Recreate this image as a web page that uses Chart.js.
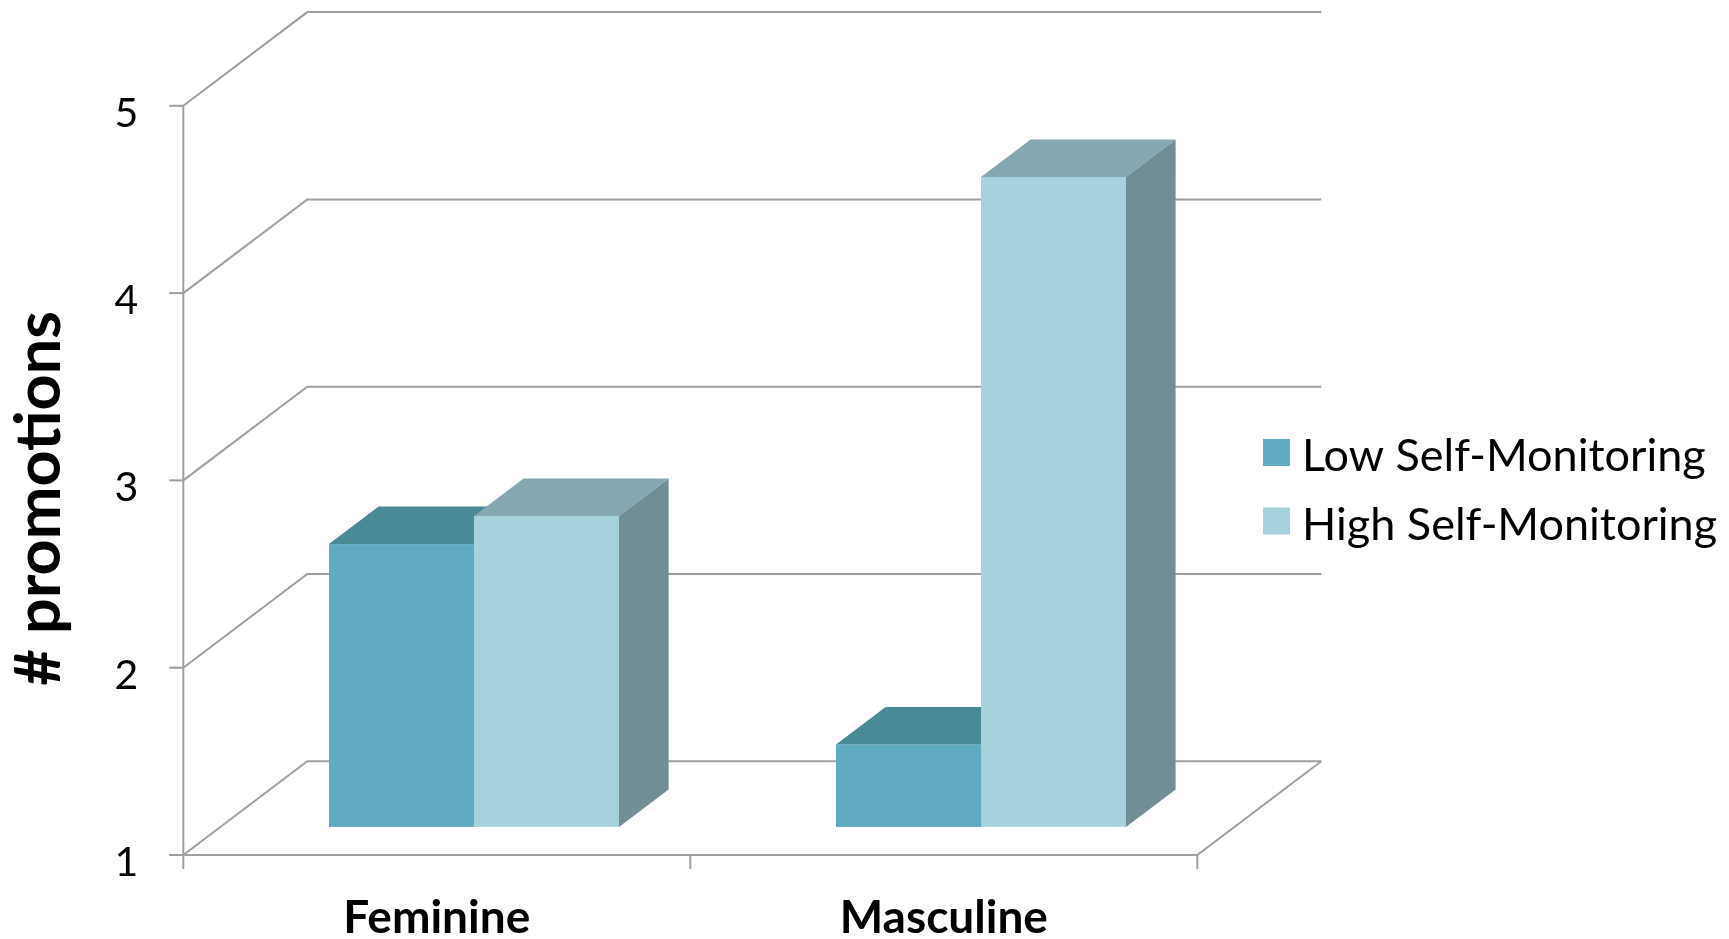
<!DOCTYPE html>
<html>
<head>
<meta charset="utf-8">
<title># promotions</title>
<script src="https://cdn.jsdelivr.net/npm/chart.js@4.4.1/dist/chart.umd.min.js"></script>
<style>
  html, body { margin: 0; padding: 0; background: #ffffff; }
  canvas { display: block; }
</style>
</head>
<body>
<canvas id="chart" width="1729" height="939"></canvas>
<script>
// Categories, series and value-axis ticks
const categories = ['Feminine', 'Masculine'];
const seriesNames = ['Low Self-Monitoring', 'High Self-Monitoring'];
const lowSelfMonitoring = [2.51, 1.44];
const highSelfMonitoring = [2.66, 4.47];
const valueTicks = [1, 2, 3, 4, 5];
const axisTitle = '# promotions';

// Face colours for each series: front, top, side
const faceColors = [
  { front: '#60aac2', top: '#4a8996', side: '#4f8797' },
  { front: '#a6d2de', top: '#85a7b2', side: '#718e97' }
];

// Oblique projection of the depth axis (full depth of the walls)
const DEPTH = { x: 124, y: -93.7 };
// Bars occupy this slice of the depth (front, back)
const BAR_SLICE = [0.3, 0.7];
const GRID_COLOR = '#9f9f9f';
const FONT = 'Lato, "Open Sans", sans-serif';

const box3d = {
  id: 'box3d',
  beforeDatasetsDraw(chart) {
    const ctx = chart.ctx;
    const xs = chart.scales.x, ys = chart.scales.y;
    const area = chart.chartArea;
    const L = area.left, R = area.right, B = ys.getPixelForValue(valueTicks[0]);
    const T = ys.getPixelForValue(valueTicks[valueTicks.length - 1]);

    ctx.save();
    ctx.strokeStyle = GRID_COLOR;
    ctx.lineWidth = 2;
    ctx.lineJoin = 'miter';

    // side wall + back wall gridlines
    valueTicks.forEach(v => {
      const y = ys.getPixelForValue(v);
      ctx.beginPath();
      ctx.moveTo(L, y);
      ctx.lineTo(L + DEPTH.x, y + DEPTH.y);
      ctx.lineTo(R + DEPTH.x, y + DEPTH.y);
      ctx.stroke();
    });

    // floor front edge and right edge
    ctx.beginPath();
    ctx.moveTo(L, B);
    ctx.lineTo(R, B);
    ctx.lineTo(R + DEPTH.x, B + DEPTH.y);
    ctx.stroke();

    // value axis line
    ctx.beginPath();
    ctx.moveTo(L, T);
    ctx.lineTo(L, B);
    ctx.stroke();

    // value tick marks
    valueTicks.forEach(v => {
      const y = ys.getPixelForValue(v);
      ctx.beginPath();
      ctx.moveTo(L - 14, y);
      ctx.lineTo(L, y);
      ctx.stroke();
    });

    // category tick marks at slot boundaries
    const n = categories.length;
    const bounds = [L];
    for (let i = 1; i < n; i++) {
      bounds.push((xs.getPixelForValue(i - 1) + xs.getPixelForValue(i)) / 2);
    }
    bounds.push(R);
    bounds.forEach(x => {
      ctx.beginPath();
      ctx.moveTo(x, B);
      ctx.lineTo(x, B + 14);
      ctx.stroke();
    });

    // value tick labels
    ctx.fillStyle = '#000000';
    ctx.font = '41px ' + FONT;
    ctx.textAlign = 'right';
    ctx.textBaseline = 'alphabetic';
    valueTicks.forEach(v => {
      const y = ys.getPixelForValue(v);
      ctx.fillText(String(v), L - 45, y + 21);
    });

    // category labels
    ctx.font = 'bold 46px ' + FONT;
    ctx.textAlign = 'center';
    categories.forEach((c, i) => {
      ctx.fillText(c, xs.getPixelForValue(i), B + 78);
    });

    // axis title
    ctx.save();
    ctx.translate(60, (T + B) / 2 + 18);
    ctx.rotate(-Math.PI / 2);
    ctx.font = 'bold 63px ' + FONT;
    ctx.textAlign = 'center';
    ctx.fillText(axisTitle, 0, 0);
    ctx.restore();

    // 3D columns: per category, left series first so the right one overlaps
    const f = BAR_SLICE[0], b = BAR_SLICE[1];
    for (let j = 0; j < n; j++) {
      chart.data.datasets.forEach((ds, i) => {
        const el = chart.getDatasetMeta(i).data[j];
        const c = faceColors[i];
        const x0 = el.x - el.width / 2, x1 = el.x + el.width / 2;
        const yt = el.y, yb = B; // columns stand on the floor (axis minimum)
        const fx = f * DEPTH.x, fy = f * DEPTH.y, bx = b * DEPTH.x, by = b * DEPTH.y;

        // front face
        ctx.fillStyle = c.front;
        ctx.fillRect(x0 + fx, yt + fy, x1 - x0, yb - yt);

        // top face
        ctx.fillStyle = c.top;
        ctx.beginPath();
        ctx.moveTo(x0 + fx, yt + fy);
        ctx.lineTo(x1 + fx, yt + fy);
        ctx.lineTo(x1 + bx, yt + by);
        ctx.lineTo(x0 + bx, yt + by);
        ctx.closePath();
        ctx.fill();

        // right side face
        ctx.fillStyle = c.side;
        ctx.beginPath();
        ctx.moveTo(x1 + fx, yt + fy);
        ctx.lineTo(x1 + bx, yt + by);
        ctx.lineTo(x1 + bx, yb + by);
        ctx.lineTo(x1 + fx, yb + fy);
        ctx.closePath();
        ctx.fill();
      });
    }

    // legend
    ctx.font = '45px ' + FONT;
    ctx.textAlign = 'left';
    chart.data.datasets.forEach((ds, i) => {
      const top = 439 + i * 68.5;
      ctx.fillStyle = ds.backgroundColor;
      ctx.fillRect(1263, top, 27, 27);
      ctx.fillStyle = '#000000';
      ctx.fillText(ds.label, 1302, top + 32);
    });

    ctx.restore();
    return false;
  }
};

new Chart(document.getElementById('chart'), {
  type: 'bar',
  data: {
    labels: categories,
    datasets: [
      { label: seriesNames[0], data: lowSelfMonitoring, backgroundColor: faceColors[0].front },
      { label: seriesNames[1], data: highSelfMonitoring, backgroundColor: faceColors[1].front }
    ]
  },
  options: {
    responsive: false,
    devicePixelRatio: 1,
    animation: false,
    layout: { padding: { left: 183.3, top: 105.8, right: 531.7, bottom: 84 } },
    datasets: { bar: { categoryPercentage: 0.572, barPercentage: 1.0 } },
    scales: {
      x: { display: false, offset: true },
      y: { display: false, min: valueTicks[0], max: valueTicks[valueTicks.length - 1] }
    },
    plugins: { legend: { display: false }, tooltip: { enabled: false } }
  },
  plugins: [box3d]
});
</script>
</body>
</html>
